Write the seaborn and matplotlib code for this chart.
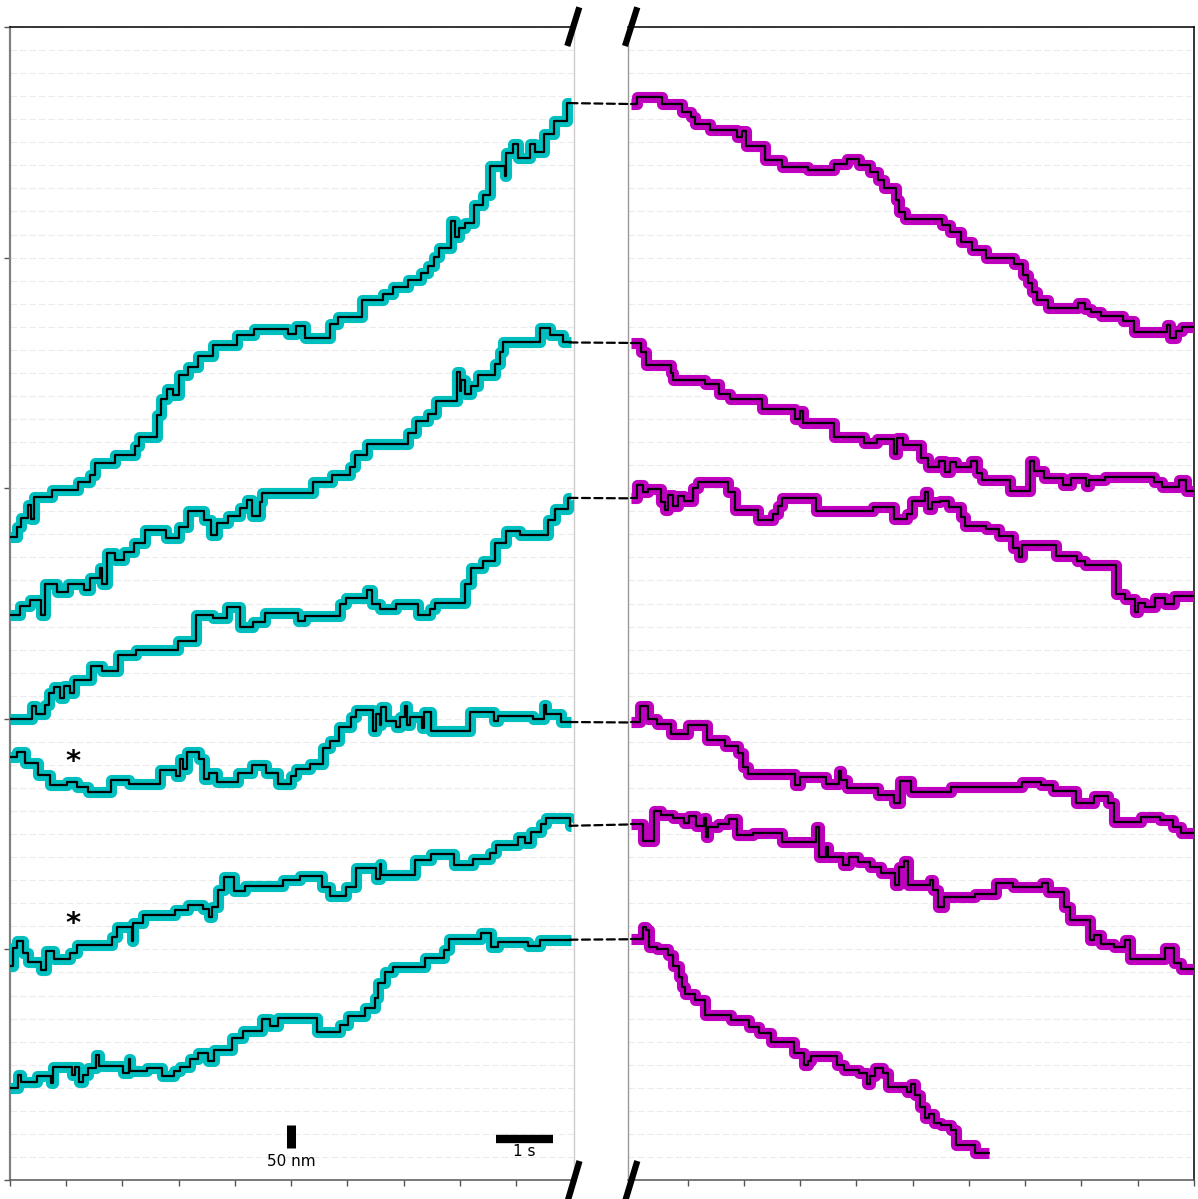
import numpy as np
import pandas as pd
import matplotlib
matplotlib.use("Agg")
import matplotlib.pyplot as plt
import seaborn as sns
from matplotlib.patches import ConnectionPatch
from matplotlib.lines import Line2D

sns.set_style("white")
plt.rcParams['font.family'] = ['DejaVu Sans']

# ---------------- data: step fits (time s, position nm) ----------------
left1_steps = [(0, 1394), (0.118, 1416), (0.195, 1436), (0.314, 1464), (0.373, 1433), (0.432, 1481),
               (0.741, 1496), (1.215, 1514), (1.422, 1529), (1.511, 1555), (1.866, 1572), (2.222, 1591),
               (2.293, 1611), (2.607, 1659), (2.678, 1694), (2.797, 1715), (2.891, 1702), (3.004, 1745),
               (3.158, 1762), (3.336, 1786), (3.614, 1810), (4.041, 1833), (4.343, 1845), (4.947, 1834),
               (5.095, 1852), (5.255, 1826), (5.688, 1856), (5.836, 1872), (6.251, 1907), (6.636, 1920),
               (6.814, 1936), (7.080, 1951), (7.317, 1967), (7.436, 1982), (7.542, 2002), (7.625, 2020),
               (7.851, 2079), (7.921, 2044), (7.981, 2064), (8.087, 2075), (8.253, 2114), (8.413, 2136),
               (8.532, 2199), (8.798, 2178), (8.828, 2226), (8.947, 2247), (9.036, 2215), (9.255, 2246),
               (9.344, 2230), (9.498, 2269), (9.675, 2297), (9.912, 2335)]
left2_steps = [(0, 1224), (0.178, 1245), (0.355, 1258), (0.551, 1224), (0.622, 1292), (0.829, 1276),
               (1.025, 1293), (1.315, 1279), (1.422, 1306), (1.600, 1328), (1.641, 1293), (1.718, 1359),
               (1.866, 1344), (2.032, 1361), (2.210, 1381), (2.399, 1409), (2.767, 1392), (3.004, 1416),
               (3.158, 1451), (3.454, 1431), (3.573, 1398), (3.673, 1425), (3.869, 1440), (4.088, 1457),
               (4.207, 1475), (4.307, 1439), (4.444, 1471), (4.485, 1489), (5.392, 1514), (5.718, 1529),
               (6.043, 1546), (6.132, 1572), (6.340, 1595), (7.080, 1620), (7.228, 1646), (7.436, 1661),
               (7.584, 1690), (7.957, 1752), (7.999, 1711), (8.028, 1735), (8.087, 1704), (8.206, 1721),
               (8.325, 1746), (8.632, 1769), (8.710, 1795), (8.769, 1818), (9.421, 1847), (9.598, 1833),
               (9.835, 1816)]
left3_steps = [(0, 999), (0.385, 1027), (0.456, 1010), (0.622, 1029), (0.693, 1055), (0.788, 1068),
               (0.889, 1046), (0.966, 1072), (1.066, 1055), (1.144, 1085), (1.440, 1115), (1.629, 1104),
               (1.926, 1138), (2.234, 1149), (2.992, 1168), (3.300, 1226), (3.614, 1219), (3.851, 1242),
               (4.088, 1198), (4.325, 1209), (4.533, 1230), (5.125, 1212), (5.244, 1222), (5.866, 1248),
               (5.984, 1262), (6.340, 1279), (6.440, 1248), (6.577, 1239), (6.873, 1248), (7.258, 1226),
               (7.465, 1239), (7.554, 1252), (8.088, 1292), (8.206, 1327), (8.413, 1342), (8.633, 1382),
               (8.828, 1408), (9.065, 1398), (9.569, 1432), (9.687, 1455), (9.924, 1479)]
left4_steps = [(0, 918), (0.118, 928), (0.267, 905), (0.504, 879), (0.711, 856), (1.007, 864),
               (1.185, 853), (1.392, 842), (1.795, 868), (2.115, 859), (2.666, 888), (2.945, 876),
               (3.022, 913), (3.081, 892), (3.140, 928), (3.365, 913), (3.454, 870), (3.537, 883),
               (3.673, 864), (4.059, 883), (4.296, 900), (4.545, 883), (4.770, 859), (4.995, 875),
               (5.095, 892), (5.332, 902), (5.569, 936), (5.688, 952), (5.848, 982), (6.073, 1003),
               (6.162, 1018), (6.458, 973), (6.517, 1010), (6.577, 986), (6.606, 1025), (6.695, 995),
               (6.873, 982), (6.932, 1003), (7.033, 1027), (7.068, 986), (7.110, 1003), (7.329, 979),
               (7.365, 1014), (7.495, 974), (8.176, 1014), (8.609, 995), (8.680, 1007), (9.302, 999),
               (9.498, 1029), (9.539, 1010), (9.806, 993)]
left5_steps = [(0, 463), (0.059, 502), (0.118, 519), (0.237, 493), (0.326, 472), (0.551, 455),
               (0.634, 496), (0.788, 479), (1.066, 493), (1.185, 510), (1.819, 527), (1.896, 549),
               (2.163, 519), (2.192, 558), (2.370, 575), (2.933, 585), (3.158, 596), (3.437, 587),
               (3.537, 570), (3.585, 593), (3.703, 628), (3.810, 656), (3.988, 626), (4.177, 637),
               (4.858, 650), (5.155, 660), (5.540, 635), (5.688, 616), (5.984, 635), (6.162, 676),
               (6.500, 652), (6.577, 686), (6.606, 662), (7.199, 693), (7.495, 707), (7.898, 684),
               (8.236, 696), (8.532, 710), (8.650, 727), (9.036, 743), (9.154, 731), (9.272, 755),
               (9.450, 772), (9.539, 785), (9.954, 768)]
left6_steps = [(0, 199), (0.148, 227), (0.195, 213), (0.474, 225), (0.729, 210), (0.770, 245),
               (1.096, 227), (1.155, 245), (1.226, 213), (1.303, 227), (1.380, 242), (1.523, 270),
               (1.582, 247), (2.014, 232), (2.115, 262), (2.133, 236), (2.429, 242), (2.708, 225),
               (2.921, 236), (3.022, 245), (3.200, 262), (3.336, 275), (3.525, 259), (3.632, 281),
               (3.952, 307), (4.148, 322), (4.485, 350), (4.622, 333), (4.770, 352), (5.451, 320),
               (5.866, 336), (6.014, 356), (6.310, 373), (6.488, 395), (6.547, 427), (6.666, 450),
               (6.814, 461), (7.377, 482), (7.720, 499), (7.803, 523), (8.384, 536), (8.562, 506),
               (8.680, 516), (9.213, 508), (9.421, 521)]
left_end_time = [9.98, 9.98, 9.98, 9.98, 9.98, 9.98]

right1_steps = [(0, 2333), (0.094, 2348), (0.537, 2333), (0.895, 2316), (1.058, 2304), (1.136, 2289),
                (1.396, 2277), (1.872, 2262), (1.969, 2275), (2.034, 2241), (2.373, 2211), (2.672, 2197),
                (3.141, 2189), (3.597, 2202), (3.825, 2213), (4.039, 2200), (4.235, 2185), (4.378, 2168),
                (4.495, 2151), (4.703, 2124), (4.755, 2098), (4.866, 2084), (5.517, 2071), (5.667, 2056),
                (5.862, 2034), (6.057, 2017), (6.298, 2000), (6.800, 1986), (6.969, 1963), (7.047, 1945),
                (7.125, 1926), (7.210, 1909), (7.405, 1890), (7.945, 1901), (8.056, 1889), (8.167, 1881),
                (8.349, 1874), (8.740, 1862), (8.935, 1838), (9.521, 1853), (9.573, 1825), (9.684, 1840),
                (9.781, 1849)]
right2_steps = [(0, 1815), (0.179, 1795), (0.264, 1767), (0.700, 1750), (0.732, 1735), (1.305, 1726),
                (1.566, 1704), (1.761, 1694), (2.327, 1672), (2.913, 1650), (2.998, 1667), (3.043, 1642),
                (3.597, 1610), (4.131, 1597), (4.365, 1606), (4.671, 1575), (4.716, 1609), (4.834, 1594),
                (5.146, 1565), (5.276, 1545), (5.472, 1560), (5.582, 1535), (5.667, 1556), (5.778, 1545),
                (6.038, 1558), (6.149, 1534), (6.233, 1517), (6.722, 1495), (7.080, 1560), (7.164, 1538),
                (7.340, 1523), (7.665, 1508), (7.815, 1523), (8.076, 1504), (8.141, 1517), (8.427, 1525),
                (9.293, 1513), (9.423, 1502), (9.729, 1517), (9.859, 1495)]
right3_steps = [(0, 1478), (0.094, 1506), (0.198, 1491), (0.290, 1498), (0.524, 1470), (0.602, 1453),
                (0.654, 1485), (0.732, 1461), (0.830, 1483), (0.928, 1473), (1.090, 1500), (1.188, 1513),
                (1.722, 1491), (1.839, 1453), (2.243, 1431), (2.523, 1443), (2.607, 1461), (2.685, 1478),
                (3.284, 1450), (4.300, 1459), (4.671, 1433), (4.899, 1443), (4.996, 1473), (5.211, 1491),
                (5.276, 1455), (5.341, 1470), (5.485, 1473), (5.647, 1459), (5.862, 1437), (5.927, 1418),
                (6.298, 1411), (6.539, 1396), (6.787, 1370), (6.884, 1351), (6.949, 1376), (7.555, 1353),
                (7.926, 1343), (8.056, 1334), (8.609, 1271), (8.772, 1259), (8.954, 1232), (9.000, 1252),
                (9.130, 1243), (9.313, 1261), (9.488, 1249), (9.651, 1267)]
right4_steps = [(0, 992), (0.159, 1028), (0.290, 999), (0.459, 989), (0.700, 968), (1.006, 986),
                (1.351, 954), (1.657, 941), (1.904, 925), (1.982, 896), (2.067, 880), (2.913, 856),
                (2.998, 874), (3.453, 858), (3.694, 887), (3.727, 867), (3.825, 851), (4.391, 835),
                (4.671, 817), (4.782, 866), (4.964, 842), (5.680, 853), (6.949, 864), (7.275, 856),
                (7.490, 844), (7.906, 817), (8.219, 833), (8.466, 817), (8.577, 777), (9.065, 786),
                (9.404, 780), (9.618, 766), (9.768, 753)]
right5_steps = [(0, 771), (0.212, 736), (0.407, 801), (0.524, 791), (0.732, 784), (0.941, 773),
                (1.025, 789), (1.155, 767), (1.286, 784), (1.318, 744), (1.370, 766), (1.546, 772),
                (1.741, 782), (1.872, 748), (2.165, 753), (2.672, 733), (3.284, 766), (3.336, 700),
                (3.453, 723), (3.499, 701), (3.759, 683), (3.870, 701), (4.020, 690), (4.235, 678),
                (4.443, 666), (4.690, 640), (4.755, 679), (4.847, 692), (4.912, 640), (5.302, 650),
                (5.354, 629), (5.452, 593), (5.550, 613), (6.103, 620), (6.474, 645), (6.787, 636),
                (7.307, 645), (7.405, 625), (7.698, 593), (7.796, 564), (8.154, 520), (8.219, 531),
                (8.349, 512), (8.577, 506), (8.772, 520), (8.870, 480), (9.488, 502), (9.651, 470),
                (9.768, 457)]
right6_steps = [(0, 522), (0.212, 548), (0.264, 541), (0.309, 506), (0.459, 500), (0.654, 488),
                (0.732, 463), (0.849, 441), (0.895, 419), (0.960, 403), (1.123, 390), (1.305, 358),
                (1.774, 348), (2.099, 332), (2.262, 318), (2.490, 300), (2.894, 276), (3.076, 249),
                (3.141, 259), (3.193, 269), (3.649, 249), (3.779, 238), (4.052, 231), (4.183, 208),
                (4.235, 225), (4.326, 242), (4.476, 231), (4.560, 202), (4.899, 191), (4.977, 209),
                (5.042, 184), (5.127, 159), (5.211, 134), (5.289, 143), (5.387, 123), (5.498, 119),
                (5.680, 108), (5.778, 76), (6.103, 58)]
right_end_time = [10.0, 10.0, 10.0, 10.0, 10.0, 6.36]

asterisk_time = [1.12, 1.12]
asterisk_nm = [889, 538]

left_traces = [left1_steps, left2_steps, left3_steps, left4_steps, left5_steps, left6_steps]
right_traces = [right1_steps, right2_steps, right3_steps, right4_steps, right5_steps, right6_steps]

W, H = 1198, 1199
fig = plt.figure(figsize=(W / 100, H / 100), dpi=100)
axL = fig.add_axes([10 / W, 19 / H, 564 / W, 1153 / H])
axR = fig.add_axes([628 / W, 19 / H, 566 / W, 1153 / H])


def to_frame(steps, t_end):
    t = [s[0] for s in steps] + [t_end]
    y = [s[1] for s in steps] + [steps[-1][1]]
    return pd.DataFrame({"t": t, "nm": y})


def draw(ax, steps, t_end, color, z):
    df = to_frame(steps, t_end)
    sns.lineplot(data=df, x="t", y="nm", ax=ax, color=color, lw=8, estimator=None, sort=False,
                 drawstyle="steps-post", solid_joinstyle="round", solid_capstyle="butt", zorder=z)
    sns.lineplot(data=df, x="t", y="nm", ax=ax, color="black", lw=1.6, estimator=None, sort=False,
                 drawstyle="steps-post", zorder=z + 0.5)


for i, (st, te) in enumerate(zip(left_traces, left_end_time)):
    draw(axL, st, te, "#00bfbf", 3 + i)
for i, (st, te) in enumerate(zip(right_traces, right_end_time)):
    draw(axR, st, te, "#bf00bf", 3 + i)

for ax in (axL, axR):
    ax.set_ylim(0, 2500)
    ax.set_yticks(np.arange(0, 2501, 500))
    ax.set_yticks(np.arange(0, 2501, 50), minor=True)
    ax.set_xticks(np.arange(0, 11, 1))
    ax.set_xlabel("")
    ax.set_ylabel("")
    ax.set_xticklabels([])
    ax.set_yticklabels([])
    ax.yaxis.grid(True, which="both", linestyle=(0, (6, 2.5)), color="#ececec", lw=0.8, zorder=0)
    ax.xaxis.grid(False)
    ax.tick_params(axis="x", which="major", direction="out", length=4, width=1, color="#555555", bottom=True)
    ax.tick_params(which="minor", length=0)
    ax.set_axisbelow(True)

axL.set_xlim(0, 10.03)
axR.set_xlim(-0.06, 10.0)
axL.tick_params(axis="y", which="major", direction="out", length=4, width=1, color="#555555", left=True)
axR.tick_params(axis="y", which="major", left=False, right=False)

axL.spines["left"].set_color("#808080"); axL.spines["left"].set_linewidth(1.6)
axL.spines["top"].set_color("black"); axL.spines["top"].set_linewidth(1.1)
axL.spines["bottom"].set_color("#555555"); axL.spines["bottom"].set_linewidth(1.1)
axL.spines["right"].set_color("#cccccc"); axL.spines["right"].set_linewidth(1.0)
axR.spines["left"].set_color("#999999"); axR.spines["left"].set_linewidth(1.0)
axR.spines["top"].set_color("black"); axR.spines["top"].set_linewidth(1.1)
axR.spines["right"].set_color("black"); axR.spines["right"].set_linewidth(1.1)
axR.spines["bottom"].set_color("#555555"); axR.spines["bottom"].set_linewidth(1.1)

# dashed connectors across the break
for stL, teL, stR in zip(left_traces, left_end_time, right_traces):
    con = ConnectionPatch(xyA=(teL - 0.03, stL[-1][1]), coordsA=axL.transData,
                          xyB=(stR[0][0], stR[0][1]), coordsB=axR.transData,
                          color="black", lw=1.6, linestyle=(0, (3.6, 2.0)), zorder=20)
    fig.add_artist(con)

# scale bars
axL.plot([5.0, 5.0], [70, 120], color="black", lw=6.5, solid_capstyle="butt", zorder=15)
axL.text(5.0, 41, "50 nm", ha="center", va="center", fontsize=11, color="black")
axL.plot([8.65, 9.65], [89, 89], color="black", lw=6, solid_capstyle="butt", zorder=15)
axL.text(9.15, 61, "1 s", ha="center", va="center", fontsize=11, color="black")

for tx, ny in zip(asterisk_time, asterisk_nm):
    axL.text(tx, ny, "*", ha="center", va="baseline", fontsize=21, fontweight="bold",
             color="black", zorder=25)

# break marks
def fig_line(p0, p1):
    fig.add_artist(Line2D([p0[0] / W, p1[0] / W], [1 - p0[1] / H, 1 - p1[1] / H],
                          transform=fig.transFigure, color="black", lw=4.5,
                          solid_capstyle="butt", zorder=30))

fig_line((567.3, 46), (579.3, 7.3))
fig_line((625.0, 46), (637.3, 7.3))
fig_line((568.0, 1200), (579.5, 1161))
fig_line((625.5, 1200), (637.3, 1161))

fig.savefig("out.png", dpi=100)
